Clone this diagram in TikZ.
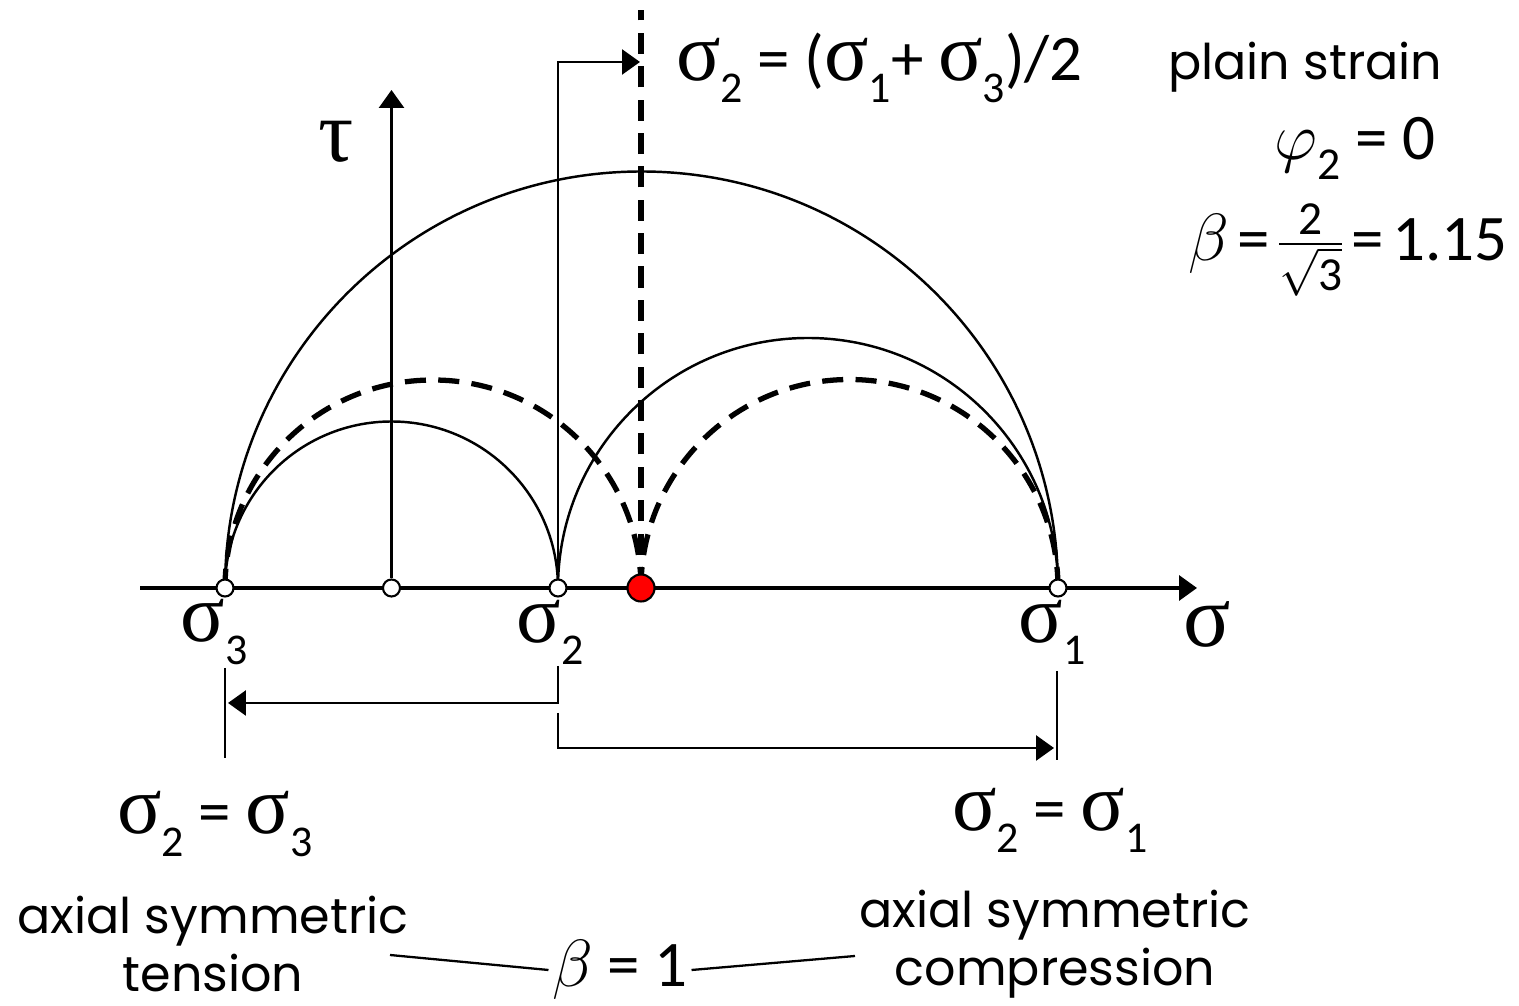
\documentclass[tikz,border=0pt]{standalone}
\usepackage{fix-cm}
\usepackage{amsmath}
\usepackage{fontspec}
\setmainfont{Poppins}
\newfontfamily\calib{Carlito}
\newfontfamily\grk{Liberation Serif}
\usetikzlibrary{arrows.meta,positioning}

\newcommand{\sg}[1]{{\grk\fontsize{47}{47}\selectfont σ}\raisebox{-0.34em}{\fontsize{25}{25}\selectfont #1}}
\newcommand{\mth}[1]{{\fontsize{38}{38}\selectfont$#1$}}

\begin{document}
\begin{tikzpicture}[x=0.02cm,y=0.02cm,
    thin line/.style={line width=1.4pt},
    dash line/.style={line width=3pt,dash pattern=on 12pt off 7pt},
    pt/.style={circle,draw,line width=1.2pt,fill=white,inner sep=0pt,minimum size=0.34cm},
    tip/.style={-{Triangle[length=0.36cm,width=0.5cm]}},
    txt/.style={font=\fontsize{28}{33}\selectfont,align=center},
    eqn/.style={font=\calib\fontsize{37}{40}\selectfont}]
  \useasboundingbox (0,-418) rectangle (1519,588);
  \coordinate (s3) at (225,0);
  \coordinate (c) at (391.5,0);
  \coordinate (s2) at (558,0);
  \coordinate (m) at (641,0);
  \coordinate (s1) at (1058,0);

  % Mohr circles
  \draw[thin line] (s1) arc[start angle=0,end angle=180,radius=416.5];
  \draw[thin line] (s2) arc[start angle=0,end angle=180,radius=166.5];
  \draw[thin line] (s1) arc[start angle=0,end angle=180,radius=250];
  \draw[dash line] (m) arc[start angle=0,end angle=180,radius=208];
  \draw[dash line] (s1) arc[start angle=0,end angle=180,radius=208.5];
  \draw[dash line] (m) -- (641,578);

  % axis
  \draw[line width=1.9pt,tip] (140,0) -- (1197,0);

  \node[pt] (n3) at (s3) {};
  \node[pt] (n0) at (c) {};
  \node[pt] (n2) at (s2) {};
  \node[pt] (n1) at (s1) {};
  \node[pt,fill=red,minimum size=0.54cm] (nm) at (m) {};

  \coordinate (ttop) at (391.5,498);
  \coordinate (hit) at (640,526);
  \draw[line width=1.6pt,tip] (n0) -- (ttop);
  \draw[thin line,tip] (n2) |- (hit);

  % labels
  \node[font=\grk\fontsize{50}{50}\selectfont] (tau) at (336,446) {τ};
  \node[font=\grk\fontsize{50}{50}\selectfont] (sig) at (1207,-36) {σ};
  \node[eqn] (l3) at (214,-44) {\sg{3}};
  \node[eqn] (l2) at (550,-44) {\sg{2}};
  \node[eqn] (l1) at (1052,-44) {\sg{1}};
  \node[eqn,anchor=west] (mid) at (670,520) {\sg{2} = (\sg{1}+ \sg{3})/2};

  \node[txt,anchor=base west] (ps) at (1162,508) {plain strain};
  \node[eqn,anchor=base,inner sep=0pt] (phi) at (1355,428) {\mth{\varphi}\raisebox{-0.3em}{\fontsize{26}{26}\selectfont 2} = 0};
  \node[eqn,anchor=east,inner sep=0pt] (b115) at (1508,338) {\mth{\beta}\hspace{5pt}=\hspace{4pt}{\fontsize{38}{38}\selectfont$\genfrac{}{}{1.3pt}{}{\hbox{\calib\fontsize{27}{27}\selectfont 2}}{\sqrt{\hbox{\calib\fontsize{27}{27}\selectfont 3}}}$}\hspace{4pt}=\hspace{5pt}1.15};

  % ranges of sigma 2
  \coordinate (a3) at (225,-80);
  \coordinate (b3) at (225,-170);
  \coordinate (a1) at (1057,-83);
  \coordinate (b1) at (1057,-172);
  \coordinate (u2) at (558,-78);
  \coordinate (d2) at (558,-125);
  \draw[line width=1.6pt] (a3) -- (b3);
  \draw[line width=1.6pt] (a1) -- (b1);
  \draw[line width=1.6pt,tip] (u2) |- (228,-115);
  \draw[line width=1.6pt,tip] (d2) |- (1054,-160);

  \node[eqn] (e3) at (215,-236) {\sg{2} = \sg{3}};
  \node[eqn] (e1) at (1050,-232) {\sg{2} = \sg{1}};
  \node[txt] (ten) at (213,-356) {axial symmetric\\tension};
  \node[txt] (com) at (1055,-356) {axial symmetric\\compression};
  \node[eqn,inner sep=2pt] (beq) at (620,-382) {\mth{\beta} = 1};
  \coordinate (tl) at (390,-367);
  \coordinate (cl) at (855,-368);
  \draw[line width=1.3pt] (tl) -- (beq.west);
  \draw[line width=1.3pt] (beq.east) -- (cl);
\end{tikzpicture}
\end{document}
